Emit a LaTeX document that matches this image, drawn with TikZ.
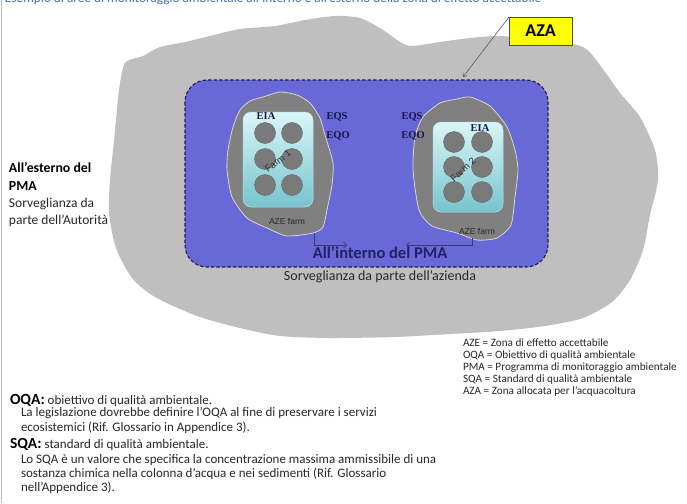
\documentclass[tikz,border=0pt]{standalone}
\usepackage{fontspec}
\setmainfont{Carlito}
\newfontfamily\eqfont{Liberation Serif}
\newfontfamily\farmfont{Liberation Sans}
\usetikzlibrary{arrows.meta}

\definecolor{zoneGray}{RGB}{191,191,191}
\definecolor{pmaBlue}{RGB}{104,104,214}
\definecolor{pmaEdge}{RGB}{28,28,78}
\definecolor{aztGray}{RGB}{128,128,128}
\definecolor{aztEdge}{RGB}{214,214,214}
\definecolor{cageGray}{RGB}{122,122,122}
\definecolor{cageEdge}{RGB}{100,100,100}
\definecolor{farmTop}{RGB}{218,246,248}
\definecolor{farmBottom}{RGB}{118,196,206}
\definecolor{farmEdge}{RGB}{190,225,230}
\definecolor{eqNavy}{RGB}{22,22,72}
\definecolor{flowBlue}{RGB}{58,58,120}
\definecolor{innerNavy}{RGB}{34,34,104}
\definecolor{titleBlue}{RGB}{66,112,196}
\definecolor{bodyText}{RGB}{40,40,40}
\definecolor{azaYellow}{RGB}{255,255,0}

\tikzset{
  txt/.style={inner sep=0pt, outer sep=0pt},
  eqlabel/.style={txt, font=\eqfont\bfseries\fontsize{10.5}{12}\selectfont, text=eqNavy},
  farmname/.style={txt, font=\farmfont\fontsize{9.5}{11}\selectfont, text=black!80},
  azelabel/.style={txt, font=\farmfont\fontsize{8.5}{10}\selectfont, text=black!85},
  aztzone/.style={fill=aztGray, draw=aztEdge, line width=0.8pt},
  farmrect/.style={top color=farmTop, bottom color=farmBottom, draw=farmEdge, line width=0.5pt, rounded corners=8pt},
  cage/.style={fill=cageGray, draw=cageEdge, line width=0.4pt},
  flow/.style={draw=flowBlue, line width=0.7pt, -{Straight Barb[length=3pt,width=6pt]}},
  leader/.style={draw=black!65, line width=0.6pt, -{Straight Barb[length=3pt,width=5pt]}},
  legend/.style={txt, anchor=base west, font=\fontsize{11.2}{12}\selectfont, text=bodyText},
  defhead/.style={txt, anchor=base west, font=\fontsize{13}{14}\selectfont, text=bodyText},
  defbody/.style={txt, anchor=base west, align=left, font=\fontsize{13}{14.2}\selectfont, text=bodyText},
}

\begin{document}
\begin{tikzpicture}[x=1pt, y=-1pt]
\useasboundingbox (0,0) rectangle (687,503);
\fill[white] (0,0) rectangle (687,503);
\draw[black!28, line width=0.8pt] (1.5,0) -- (1.5,503);

% heading, partly cut off by the page edge
\node[txt, anchor=base west, text=titleBlue, font=\fontsize{13.3}{14}\selectfont]
  (title) at (5,3) {Esempio di aree di monitoraggio ambientale all'interno e all'esterno della zona di effetto accettabile};

% allocated zone for aquaculture
\fill[zoneGray] plot[smooth cycle, tension=0.45] coordinates {
  (125,63) (143,56) (160,47) (185,42) (210,36) (240,29) (275,26) (305,20)
  (335,16) (360,18) (383,30) (400,42) (412,46) (440,42) (470,38) (500,36)
  (540,40) (583,47) (605,72) (620,93) (640,117) (655,150) (658,180) (650,215)
  (643,250) (630,280) (612,302) (583,318) (545,326) (500,331) (450,334)
  (395,337) (330,338) (280,336) (240,328) (197,316) (155,297) (132,278)
  (116,248) (109,213) (110,180) (113,150) (116,120) (119,90)};

% monitoring programme area
\draw[fill=pmaBlue, draw=pmaEdge, line width=1.1pt, dash pattern=on 3.5pt off 2pt, rounded corners=22pt]
  (185,80) rectangle (548,267);

% farm 1: acceptable effect zone, farm and cages
\draw[aztzone] plot[smooth cycle, tension=0.4] coordinates {
  (263,97) (280,92) (297,95) (310,103) (320,118) (325,135) (333,163) (332,185)
  (328,205) (323,227) (313,233) (287,236) (267,228) (247,218) (232,197)
  (227,170) (228,150) (233,127) (240,110) (250,101)};
\draw[farmrect] (243,112) rectangle (313,207);
\foreach \cx in {265,292} \foreach \cy in {133,159,185}
  \filldraw[cage] (\cx,\cy) circle[radius=10.5];

% farm 2
\draw[aztzone] plot[smooth cycle, tension=0.4] coordinates {
  (440,103) (457,99) (470,97) (490,106) (507,127) (515,150) (518,170) (515,197)
  (511,225) (497,238) (477,240) (457,233) (432,226) (419,210) (413,170)
  (415,137) (423,117)};
\draw[farmrect] (433,122) rectangle (503,212);
\foreach \cx in {454,482} \foreach \cy in {142,167,192}
  \filldraw[cage] (\cx,\cy) circle[radius=10.5];

% labels inside the farms
\node[eqlabel] (eia1) at (266,116) {EIA};
\node[eqlabel] (eqs1) at (337,117) {EQS};
\node[eqlabel] (eqo1) at (338,136) {EQO};
\node[eqlabel] (eia2) at (480,128) {EIA};
\node[eqlabel] (eqs2) at (412,117) {EQS};
\node[eqlabel] (eqo2) at (413,136) {EQO};
\node[farmname, rotate=38] (farm1) at (278,161) {Farm 1};
\node[farmname, rotate=42] (farm2) at (463,170) {Farm 2};
\node[azelabel] (aze1) at (287,221) {AZE farm};
\node[azelabel] (aze2) at (477,231) {AZE farm};

% flows from the farm zones towards the middle
\coordinate (f1s) at (314,233);
\coordinate (f1e) at (347,245);
\coordinate (f2s) at (472,238);
\coordinate (f2e) at (406,245);
\draw[flow] (f1s) |- (f1e);
\draw[flow] (f2s) |- (f2e);

% area captions
\node[txt, anchor=base, font=\bfseries\fontsize{16.5}{18}\selectfont, text=innerNavy]
  (inside) at (380,258) {All’interno del PMA};
\node[txt, anchor=base, font=\fontsize{14}{16}\selectfont, text=bodyText]
  (insidesub) at (380,280) {Sorveglianza da parte dell’azienda};

% multi-line nodes: the base anchor sits on the last line
\node[txt, anchor=base west, align=left, font=\bfseries\fontsize{13.8}{18}\selectfont, text=black]
  (outside) at (9,190) {All’esterno del\\PMA};
\node[txt, anchor=base west, align=left, font=\fontsize{13.5}{17}\selectfont, text=bodyText]
  (outsidesub) at (9,224) {Sorveglianza da\\parte dell’Autorità};

% AZA tag
\node[txt, draw=black!70, line width=0.6pt, fill=azaYellow, minimum width=63pt, minimum height=28pt,
      font=\bfseries\fontsize{18}{20}\selectfont, text=black]
  (aza) at (540.5,31) {AZA};
\coordinate (azatip) at (463,77);
\draw[leader] (aza.north west) -- (azatip);

% abbreviations
\node[legend] (l1) at (463,346) {AZE = Zona di effetto accettabile};
\node[legend] (l2) at (463,358) {OQA = Obiettivo di qualità ambientale};
\node[legend] (l3) at (463,370) {PMA = Programma di monitoraggio ambientale};
\node[legend] (l4) at (463,382) {SQA = Standard di qualità ambientale};
\node[legend] (l5) at (463,394) {AZA = Zona allocata per l'acquacoltura};

% definitions
\node[defhead] (oqa) at (10,404)
  {{\fontsize{15.5}{16}\selectfont\bfseries\color{black}OQA:} obiettivo di qualità ambientale.};
\node[defbody] (oqatext) at (21,431)
  {La legislazione dovrebbe definire l'OQA al fine di preservare i servizi\\ecosistemici (Rif. Glossario in Appendice 3).};
\node[defhead] (sqa) at (10,448)
  {{\fontsize{15.5}{16}\selectfont\bfseries\color{black}SQA:} standard di qualità ambientale.};
\node[defbody] (sqatext) at (21,491.4)
  {Lo SQA è un valore che specifica la concentrazione massima ammissibile di una\\sostanza chimica nella colonna d'acqua e nei sedimenti (Rif. Glossario\\nell'Appendice 3).};
\end{tikzpicture}
\end{document}
